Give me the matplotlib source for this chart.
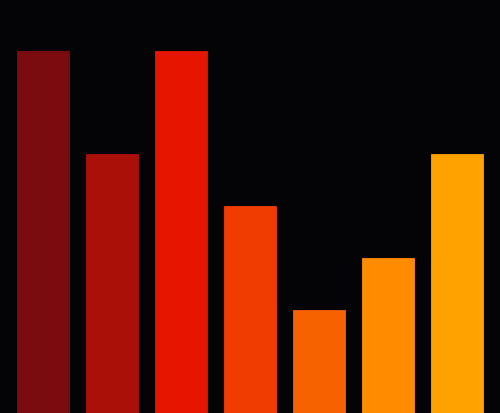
import numpy as np
import matplotlib
matplotlib.use("Agg")
from matplotlib import pyplot as plt

categories = ["A", "B", "C", "D", "E", "F", "G"]
values = [7, 5, 7, 4, 2, 3, 5]
colors = ["#7a0c10", "#aa0f08", "#e61500", "#f03c00", "#f76200", "#ff8c00", "#ffa200"]

bg = "#040406"
fig = plt.figure(figsize=(5.0, 4.14), dpi=100, facecolor=bg)
ax = fig.add_axes([0, 0, 1, 1], facecolor=bg)

x = np.arange(len(categories))
ax.bar(x, values, width=0.75, color=colors, edgecolor=colors, linewidth=0.6)

ax.set_xlim(-0.623, len(categories) - 1 + 0.623)
ax.set_ylim(0, 8)
ax.axis("off")

fig.savefig("out.png", dpi=100, facecolor=bg)
